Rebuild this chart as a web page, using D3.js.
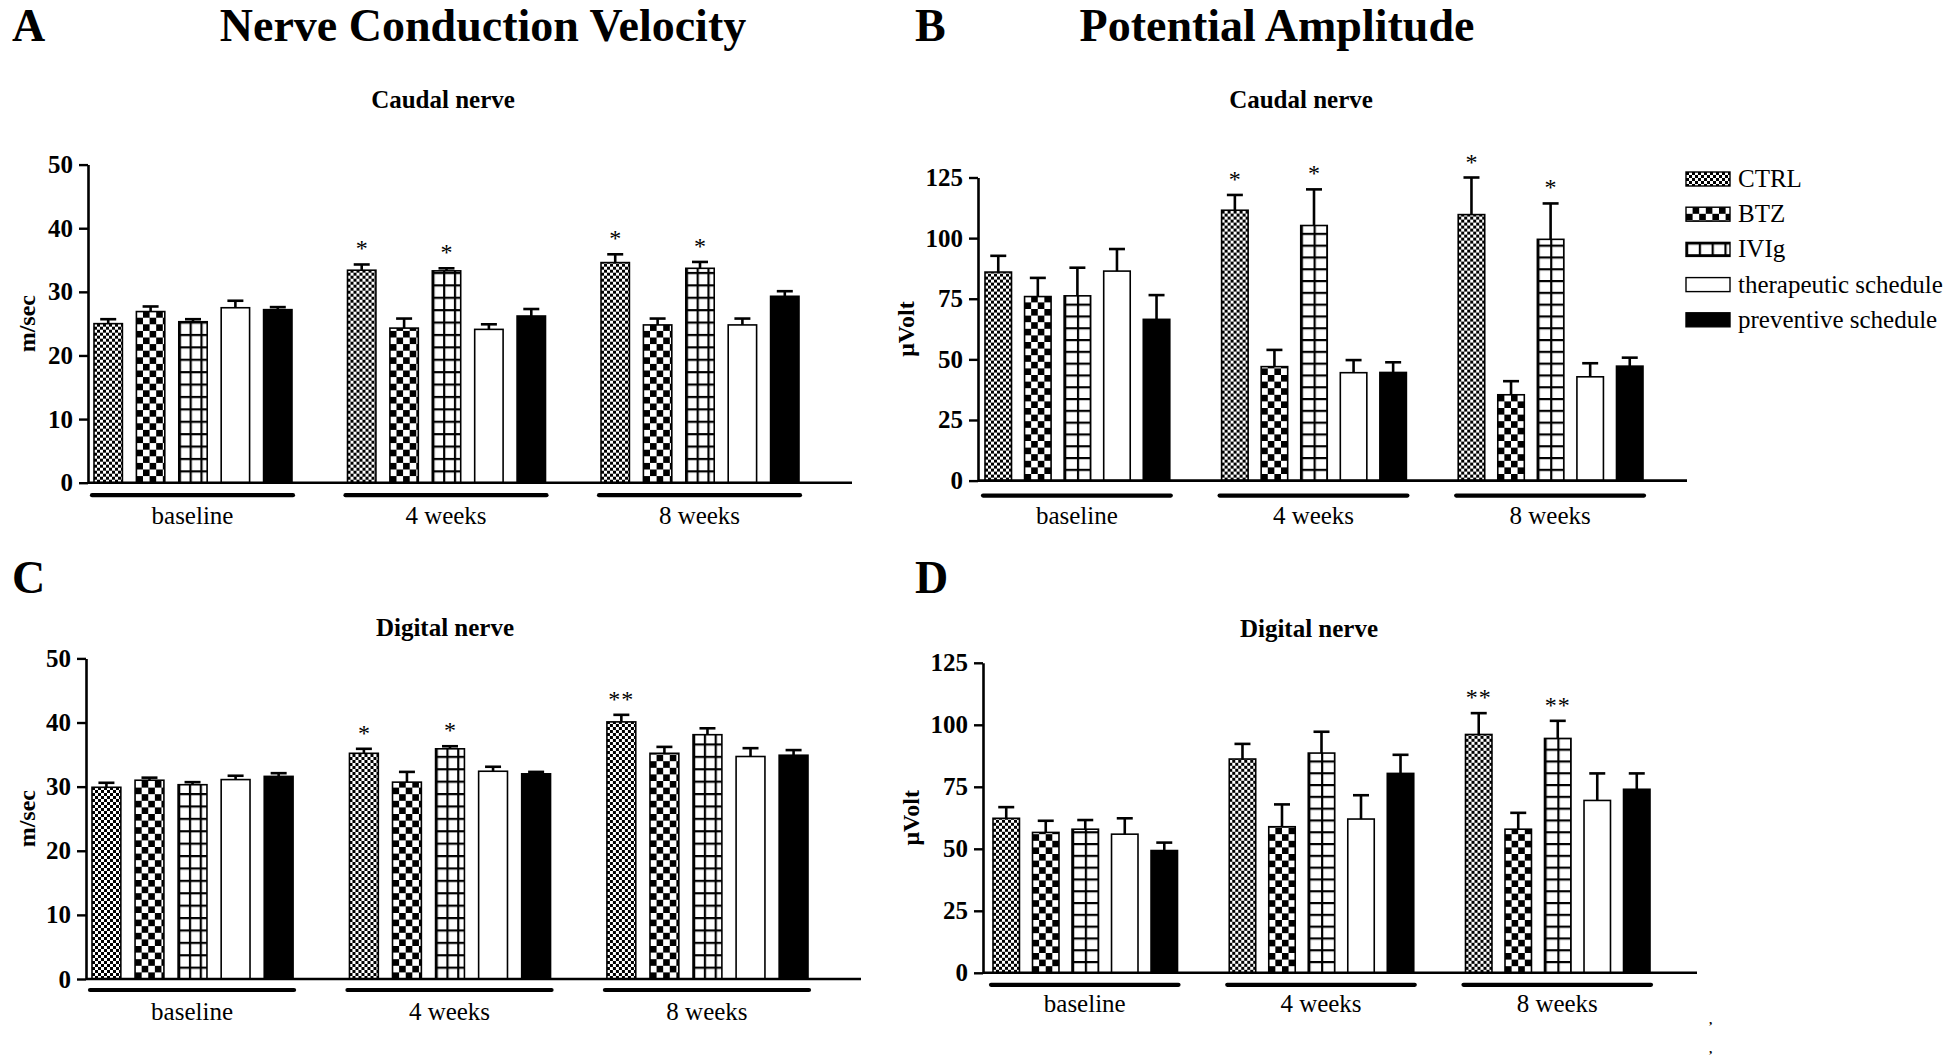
<!DOCTYPE html>
<html>
<head>
<meta charset="utf-8">
<script src="https://cdn.jsdelivr.net/npm/d3@7"></script>
<style>
  html, body { margin: 0; padding: 0; background: #fff; }
  svg { display: block; }
  text { font-family: "Liberation Serif", "Times New Roman", serif; fill: #000; }
</style>
</head>
<body>
<script>
// ---------------- DATA ----------------
const groups = ["baseline", "4 weeks", "8 weeks"];
const series = ["CTRL", "BTZ", "IVIg", "therapeutic schedule", "preventive schedule"];
const ncvTicks = [0, 10, 20, 30, 40, 50];
const ampTicks = [0, 25, 50, 75, 100, 125];

// Panel A: nerve conduction velocity, caudal nerve (m/sec); rows = series, cols = groups
const caudalNcvMean = [
  [25.0, 33.4, 34.6],
  [26.9, 24.3, 24.8],
  [25.3, 33.3, 33.7],
  [27.5, 24.1, 24.8],
  [27.2, 26.2, 29.3]
];
const caudalNcvSem = [
  [0.7, 0.9, 1.3],
  [0.8, 1.5, 1.0],
  [0.4, 0.4, 1.0],
  [1.1, 0.8, 1.0],
  [0.4, 1.1, 0.8]
];
const caudalNcvSig = [
  ["", "*", "*"], ["", "", ""], ["", "*", "*"], ["", "", ""], ["", "", ""]
];

// Panel B: potential amplitude, caudal nerve (µVolt)
const caudalAmpMean = [
  [86.0, 111.5, 109.7],
  [75.9, 47.0, 35.4],
  [76.2, 105.2, 99.5],
  [86.4, 44.5, 42.8],
  [66.5, 44.6, 47.2]
];
const caudalAmpSem = [
  [6.7, 6.3, 15.3],
  [7.7, 6.9, 5.6],
  [11.6, 14.9, 14.8],
  [9.1, 5.2, 5.6],
  [10.0, 4.2, 3.5]
];
const caudalAmpSig = [
  ["", "*", "*"], ["", "", ""], ["", "*", "*"], ["", "", ""], ["", "", ""]
];

// Panel C: nerve conduction velocity, digital nerve (m/sec)
const digitalNcvMean = [
  [29.9, 35.2, 40.1],
  [31.0, 30.7, 35.2],
  [30.3, 35.9, 38.1],
  [31.1, 32.4, 34.7],
  [31.6, 32.0, 34.9]
];
const digitalNcvSem = [
  [0.7, 0.7, 1.1],
  [0.4, 1.6, 1.0],
  [0.4, 0.4, 1.0],
  [0.6, 0.7, 1.3],
  [0.5, 0.3, 0.8]
];
const digitalNcvSig = [
  ["", "*", "**"], ["", "", ""], ["", "*", ""], ["", "", ""], ["", "", ""]
];

// Panel D: potential amplitude, digital nerve (µVolt)
const digitalAmpMean = [
  [62.3, 86.2, 96.1],
  [56.6, 58.9, 57.9],
  [57.9, 88.6, 94.5],
  [55.9, 62.0, 69.5],
  [49.3, 80.4, 74.0]
];
const digitalAmpSem = [
  [4.5, 6.1, 8.6],
  [4.7, 9.0, 6.6],
  [3.7, 8.6, 7.1],
  [6.4, 9.6, 10.9],
  [3.2, 7.5, 6.4]
];
const digitalAmpSig = [
  ["", "", "**"], ["", "", ""], ["", "", "**"], ["", "", ""], ["", "", ""]
];

// ---------------- DRAWING ----------------
const W = 1946, H = 1060;
const svg = d3.select("body").append("svg").attr("width", W).attr("height", H)
  .style("background", "#fff");
svg.append("rect").attr("width", W).attr("height", H).attr("fill", "#fff");

const defs = svg.append("defs");

function makePatterns(suffix, gridW, gridH) {
  // fine checker (CTRL)
  const p1 = defs.append("pattern").attr("id", "ctrl" + suffix)
    .attr("patternUnits", "userSpaceOnUse").attr("width", 6).attr("height", 6);
  p1.append("rect").attr("width", 6).attr("height", 6).attr("fill", "#fff");
  p1.append("rect").attr("width", 3).attr("height", 3).attr("fill", "#000");
  p1.append("rect").attr("x", 3).attr("y", 3).attr("width", 3).attr("height", 3).attr("fill", "#000");
  // coarse checker (BTZ)
  const c = 6.6;
  const p2 = defs.append("pattern").attr("id", "btz" + suffix)
    .attr("patternUnits", "userSpaceOnUse").attr("width", 2 * c).attr("height", 2 * c);
  p2.append("rect").attr("width", 2 * c).attr("height", 2 * c).attr("fill", "#fff");
  p2.append("rect").attr("x", c).attr("width", c).attr("height", c).attr("fill", "#000");
  p2.append("rect").attr("y", c).attr("width", c).attr("height", c).attr("fill", "#000");
  // grid (IVIg)
  const p3 = defs.append("pattern").attr("id", "ivig" + suffix)
    .attr("patternUnits", "userSpaceOnUse").attr("width", gridW).attr("height", gridH);
  p3.append("rect").attr("width", gridW).attr("height", gridH).attr("fill", "#fff");
  p3.append("rect").attr("x", 0).attr("width", 2.2).attr("height", gridH).attr("fill", "#000");
  p3.append("rect").attr("y", 0).attr("width", gridW).attr("height", 2.2).attr("fill", "#000");
}
makePatterns("A", 10.8, 12.4);
makePatterns("B", 12.8, 11.8);

function fillFor(i, suffix) {
  if (i === 0) return "url(#ctrl" + suffix + ")";
  if (i === 1) return "url(#btz" + suffix + ")";
  if (i === 2) return "url(#ivig" + suffix + ")";
  if (i === 3) return "#fff";
  return "#000";
}

function drawPanel(cfg) {
  const g = svg.append("g");
  const y = d3.scaleLinear().domain([0, cfg.max]).range([cfg.y0, cfg.yTop]);
  const xg = d3.scaleBand().domain(groups).range([cfg.gx0, cfg.gx1])
    .paddingInner(0.219).paddingOuter(0);
  const xs = d3.scaleBand().domain(series).range([0, xg.bandwidth()])
    .paddingInner(0.33).paddingOuter(0);

  // y axis
  const yAxis = d3.axisLeft(y).tickValues(cfg.ticks).tickSize(9).tickSizeOuter(0).tickPadding(6);
  const ax = g.append("g").attr("transform", `translate(${cfg.ax},0)`).call(yAxis);
  ax.select(".domain").attr("stroke", "#000").attr("stroke-width", 2.6);
  ax.selectAll(".tick line").attr("stroke", "#000").attr("stroke-width", 2.4);
  ax.selectAll(".tick text").attr("font-family", "Liberation Serif, Times New Roman, serif")
    .attr("font-size", 25).attr("font-weight", "bold").attr("fill", "#000");

  // bars
  series.forEach((s, i) => {
    groups.forEach((grp, j) => {
      const m = cfg.mean[i][j], e = cfg.sem[i][j];
      const x = xg(grp) + xs(s);
      const bw = xs.bandwidth();
      const cx = x + bw / 2;
      const bg = g.append("g").attr("transform", `translate(${x},${y(0)})`);
      bg.append("rect")
        .attr("x", 0).attr("y", y(m) - y(0))
        .attr("width", bw).attr("height", y(0) - y(m))
        .attr("fill", fillFor(i, cfg.pat))
        .attr("stroke", "#000").attr("stroke-width", 1.6);
      // error bar (upper only)
      g.append("line").attr("x1", cx).attr("x2", cx).attr("y1", y(m)).attr("y2", y(m + e))
        .attr("stroke", "#000").attr("stroke-width", 2.6);
      g.append("line").attr("x1", cx - 8).attr("x2", cx + 8).attr("y1", y(m + e)).attr("y2", y(m + e))
        .attr("stroke", "#000").attr("stroke-width", 2.6);
      const sig = cfg.sig[i][j];
      if (sig) {
        g.append("text").attr("x", cx).attr("y", y(m + e) - 8)
          .attr("text-anchor", "middle").attr("font-size", 24)
          .attr("letter-spacing", sig.length > 1 ? 1 : 0)
          .text(sig);
      }
    });
  });

  // x axis line
  g.append("line").attr("x1", cfg.ax).attr("x2", cfg.axEnd).attr("y1", y(0)).attr("y2", y(0))
    .attr("stroke", "#000").attr("stroke-width", 2.6);

  // group underlines + labels
  groups.forEach(grp => {
    const x0 = xg(grp) - 2, x1 = xg(grp) + xg.bandwidth() + 1;
    g.append("line").attr("x1", x0).attr("x2", x1)
      .attr("y1", y(0) + cfg.ulOff).attr("y2", y(0) + cfg.ulOff)
      .attr("stroke", "#000").attr("stroke-width", 4.2).attr("stroke-linecap", "round");
    g.append("text").attr("x", (x0 + x1) / 2).attr("y", y(0) + cfg.lblOff)
      .attr("text-anchor", "middle").attr("font-size", 25).text(grp);
  });

  // y label
  g.append("text")
    .attr("transform", `translate(${cfg.ylx},${(y(0) + y(cfg.max)) / 2}) rotate(-90)`)
    .attr("text-anchor", "middle").attr("font-size", 24).attr("font-weight", "bold")
    .text(cfg.ylabel);

  // subtitle
  g.append("text").attr("x", cfg.subX).attr("y", cfg.subY)
    .attr("text-anchor", "middle").attr("font-size", 25).attr("font-weight", "bold")
    .text(cfg.sub);

  return { y, xg, xs };
}

drawPanel({
  mean: caudalNcvMean, sem: caudalNcvSem, sig: caudalNcvSig, ticks: ncvTicks, max: 50,
  y0: 482.7, yTop: 164.6, gx0: 94, gx1: 799, ax: 88, axEnd: 852, pat: "A",
  ulOff: 12.5, lblOff: 41, ylx: 35, ylabel: "m/sec", sub: "Caudal nerve", subX: 443, subY: 108
});
drawPanel({
  mean: caudalAmpMean, sem: caudalAmpSem, sig: caudalAmpSig, ticks: ampTicks, max: 125,
  y0: 480.6, yTop: 177.5, gx0: 985, gx1: 1643, ax: 978, axEnd: 1687, pat: "B",
  ulOff: 15, lblOff: 43, ylx: 914, ylabel: "μVolt", sub: "Caudal nerve", subX: 1301, subY: 108
});
drawPanel({
  mean: digitalNcvMean, sem: digitalNcvSem, sig: digitalNcvSig, ticks: ncvTicks, max: 50,
  y0: 979, yTop: 658.4, gx0: 92, gx1: 808, ax: 86, axEnd: 861, pat: "A",
  ulOff: 11, lblOff: 41, ylx: 35, ylabel: "m/sec", sub: "Digital nerve", subX: 445, subY: 636
});
drawPanel({
  mean: digitalAmpMean, sem: digitalAmpSem, sig: digitalAmpSig, ticks: ampTicks, max: 125,
  y0: 972.8, yTop: 662.8, gx0: 993, gx1: 1650, ax: 983, axEnd: 1697, pat: "B",
  ulOff: 12, lblOff: 39, ylx: 919, ylabel: "μVolt", sub: "Digital nerve", subX: 1309, subY: 637
});

// Panel letters and headings
const heads = [
  { t: "A", x: 12, y: 41, anchor: "start" },
  { t: "Nerve Conduction Velocity", x: 483, y: 41, anchor: "middle" },
  { t: "B", x: 915, y: 41, anchor: "start" },
  { t: "Potential Amplitude", x: 1277, y: 41, anchor: "middle" },
  { t: "C", x: 12, y: 593, anchor: "start" },
  { t: "D", x: 915, y: 593, anchor: "start" }
];
heads.forEach(h => {
  svg.append("text").attr("x", h.x).attr("y", h.y).attr("text-anchor", h.anchor)
    .attr("font-size", 46).attr("font-weight", "bold").text(h.t);
});

// Legend (panel B)
const legend = svg.append("g").attr("transform", "translate(1686,172)");
series.forEach((s, i) => {
  const row = legend.append("g").attr("transform", `translate(0,${i * 35.2})`);
  row.append("rect").attr("width", 44).attr("height", 14)
    .attr("fill", fillFor(i, "B")).attr("stroke", "#000").attr("stroke-width", 1.4);
  row.append("text").attr("x", 52).attr("y", 15).attr("font-size", 25).text(s);
});

// small stray marks at bottom right of the original figure
[1024, 1053].forEach(yy => {
  svg.append("text").attr("x", 1709).attr("y", yy).attr("font-size", 13)
    .attr("font-weight", "bold").text(",");
});
</script>
</body>
</html>
